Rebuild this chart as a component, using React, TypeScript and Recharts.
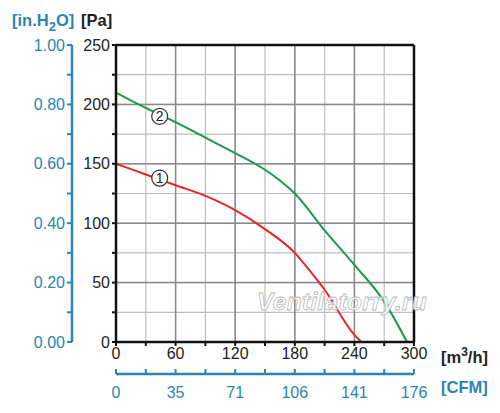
import React from 'react';
import {
  LineChart, Line, XAxis, YAxis, CartesianGrid, ReferenceLine, ReferenceDot,
} from 'recharts';

// ---- data ----
const curve1 = [
  { q: 0, p: 150 }, { q: 30, p: 141 }, { q: 60, p: 132 }, { q: 90, p: 123 },
  { q: 120, p: 111 }, { q: 150, p: 95 }, { q: 180, p: 75 }, { q: 195, p: 60 },
  { q: 210, p: 44 }, { q: 240, p: 6 }, { q: 247, p: 0 },
];
const curve2 = [
  { q: 0, p: 210 }, { q: 30, p: 197 }, { q: 60, p: 185 }, { q: 90, p: 172 },
  { q: 120, p: 159 }, { q: 150, p: 145 }, { q: 165, p: 136 }, { q: 180, p: 125 },
  { q: 210, p: 94 }, { q: 240, p: 65 }, { q: 270, p: 34 }, { q: 293, p: 0 },
];
const curveLabels = [
  { q: 44, p: 138, text: '1' },
  { q: 44, p: 190, text: '2' },
];
const m3hTicks = [0, 30, 60, 90, 120, 150, 180, 210, 240, 270, 300];
const m3hMajor = [60, 120, 180, 240];
const cfmLabelAt = [0, 60, 120, 180, 240, 300];
const cfmLabels = ['0', '35', '71', '106', '141', '176'];
const paTicks = [0, 25, 50, 75, 100, 125, 150, 175, 200, 225, 250];
const paMajor = [50, 100, 150, 200];
const inTicks = [0, 0.1, 0.2, 0.3, 0.4, 0.5, 0.6, 0.7, 0.8, 0.9, 1.0];
// range anchor for the secondary (unit-conversion) axes
const secondaryRange = [{ c: 0, w: 0 }, { c: 300, w: 1 }];

const BLUE = '#2a84b4';
const FONT = '"Liberation Sans", Arial, sans-serif';

const CfmTick = (props: any) => {
  const { x, y, payload } = props;
  const idx = cfmLabelAt.indexOf(payload.value);
  return (
    <g>
      <line x1={x} y1={y} x2={x} y2={y - 5} stroke={BLUE} strokeWidth={2} />
      {idx >= 0 && (
        <text x={x} y={y + 18} dy="0.355em" textAnchor="middle" fill={BLUE}
          fontSize={16} fontFamily={FONT}>
          {cfmLabels[idx]}
        </text>
      )}
    </g>
  );
};

const X1 = 'a_m3h';
const X2 = 'b_cfm';
const Y1 = 'a_pa';
const Y2 = 'b_in';

export default function App() {
  return (
    <div style={{ position: 'relative', width: 484, height: 400, fontFamily: FONT }}>
      <LineChart width={484} height={400} margin={{ top: 37, right: 78, bottom: 0, left: 4 }}>
        <CartesianGrid xAxisId={X1} yAxisId={Y1} stroke="#bdbdbd" strokeWidth={1.2} />
        <XAxis xAxisId={X1} dataKey="q" type="number" domain={[0, 300]} ticks={m3hTicks}
          height={32} tickSize={4} tickMargin={2} interval={0}
          stroke="#111" axisLine={{ strokeWidth: 2.5 }} tickLine={{ strokeWidth: 2 }}
          tick={{ fill: '#222', fontSize: 16, fontFamily: FONT }}
          tickFormatter={(v: number) => (v % 60 === 0 ? String(v) : '')} />
        <XAxis xAxisId={X2} dataKey="c" type="number" domain={[0, 300]} ticks={m3hTicks}
          height={34} tickSize={0} tickMargin={0} interval={0}
          stroke={BLUE} axisLine={{ strokeWidth: 2.5 }} tickLine={false}
          tick={<CfmTick />} />
        <YAxis yAxisId={Y1} type="number" domain={[0, 250]} ticks={paTicks} width={44}
          tickSize={4} tickMargin={2} interval={0}
          stroke="#111" axisLine={{ strokeWidth: 2.5 }} tickLine={{ strokeWidth: 2 }}
          tick={{ fill: '#222', fontSize: 16, fontFamily: FONT }}
          tickFormatter={(v: number) => (v % 50 === 0 ? String(v) : '')} />
        <YAxis yAxisId={Y2} dataKey="w" type="number" domain={[0, 1]} ticks={inTicks} width={60}
          tickSize={5} tickMargin={2} interval={0}
          stroke={BLUE} axisLine={{ strokeWidth: 2.5 }} tickLine={{ strokeWidth: 2 }}
          tick={{ fill: BLUE, fontSize: 16, fontFamily: FONT }}
          tickFormatter={(v: number, i: number) => (i % 2 === 0 ? v.toFixed(2) : '')} />
        {m3hMajor.map((v) => (
          <ReferenceLine key={'vx' + v} xAxisId={X1} yAxisId={Y1} x={v} stroke="#8a8a8a" strokeWidth={1.5} />
        ))}
        {paMajor.map((v) => (
          <ReferenceLine key={'hy' + v} xAxisId={X1} yAxisId={Y1} y={v} stroke="#8a8a8a" strokeWidth={1.5} />
        ))}
        <ReferenceLine xAxisId={X1} yAxisId={Y1} y={250} stroke="#111" strokeWidth={2.5} />
        <ReferenceLine xAxisId={X1} yAxisId={Y1} x={300} stroke="#111" strokeWidth={2.5} />
        <Line xAxisId={X2} yAxisId={Y2} data={secondaryRange} dataKey="w" stroke="none"
          dot={false} activeDot={false} isAnimationActive={false} />
        <Line xAxisId={X1} yAxisId={Y1} data={curve1} dataKey="p" type="monotone"
          stroke="#e3262c" strokeWidth={2} dot={false} isAnimationActive={false} />
        <Line xAxisId={X1} yAxisId={Y1} data={curve2} dataKey="p" type="monotone"
          stroke="#1a9b4c" strokeWidth={2} dot={false} isAnimationActive={false} />
        {curveLabels.map((l) => (
          <ReferenceDot key={l.text} xAxisId={X1} yAxisId={Y1} x={l.q} y={l.p} r={8}
            fill="#fff" stroke="#333" strokeWidth={1.2}
            label={{ value: l.text, position: 'center', fill: '#222', fontSize: 14, fontFamily: FONT }} />
        ))}
      </LineChart>
      <div style={{ position: 'absolute', left: 4, top: 3, color: BLUE, fontWeight: 'bold', fontSize: 16.5 }}>
        [in.H<sub style={{ fontSize: 13, verticalAlign: -5 }}>2</sub>O]
      </div>
      <div style={{ position: 'absolute', left: 73, top: 3, color: '#222', fontWeight: 'bold', fontSize: 16.5 }}>
        [Pa]
      </div>
      <div style={{ position: 'absolute', left: 433, top: 337, color: '#222', fontWeight: 'bold', fontSize: 16.5 }}>
        [m<sup style={{ fontSize: 12, verticalAlign: 7 }}>3</sup>/h]
      </div>
      <div style={{ position: 'absolute', left: 433, top: 370, color: BLUE, fontWeight: 'bold', fontSize: 16.5 }}>
        [CFM]
      </div>
      <div style={{
        position: 'absolute', left: 249, top: 280, fontSize: 24.5, fontStyle: 'italic', fontWeight: 'bold',
        color: 'rgba(255,255,255,0.85)', WebkitTextStroke: '0.8px #b8b8b8', letterSpacing: 0.3,
      }}>
        Ventilatorry.ru
      </div>
    </div>
  );
}
